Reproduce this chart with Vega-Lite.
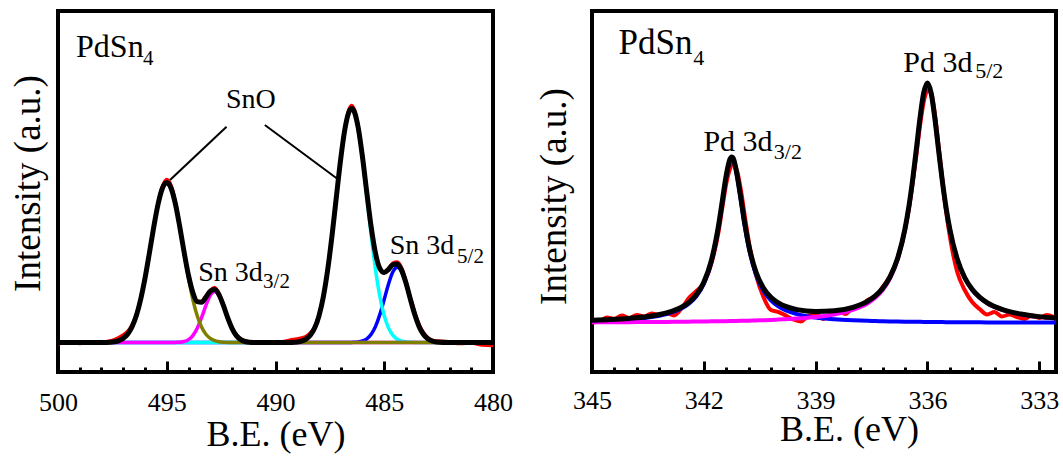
{
  "$schema": "https://vega.github.io/schema/vega-lite/v6.json",
  "background": "white",
  "padding": {"left": 7, "top": 9, "right": 0, "bottom": 0},
  "bounds": "flush",
  "spacing": 99,
  "config": {
    "view": {"stroke": "#000000", "strokeWidth": 4},
    "axis": {"labelFont": "Liberation Serif", "titleFont": "Liberation Serif", "titleFontWeight": "normal", "labelColor": "#000000", "titleColor": "#000000", "grid": false, "domain": false, "tickColor": "#000000"},
    "text": {"font": "Liberation Serif", "color": "#000000"}
  },
  "datasets": {
    "leftFit": [
      {"x": 500, "olive": 0, "magenta": 0, "cyan": 0, "blue": 0, "fit": 0},
      {"x": 499.5, "olive": 0, "magenta": 0, "cyan": 0, "blue": 0, "fit": 0},
      {"x": 499, "olive": 0, "magenta": 0, "cyan": 0, "blue": 0, "fit": 0},
      {"x": 498.5, "olive": 0, "magenta": 0, "cyan": 0, "blue": 0, "fit": 0},
      {"x": 498, "olive": 0, "magenta": 0, "cyan": 0, "blue": 0, "fit": 0},
      {"x": 497.6, "olive": 0.3, "magenta": 0, "cyan": 0, "blue": 0, "fit": 0.3},
      {"x": 497.4, "olive": 0.8, "magenta": 0, "cyan": 0, "blue": 0, "fit": 0.8},
      {"x": 497.2, "olive": 1.9, "magenta": 0, "cyan": 0, "blue": 0, "fit": 1.9},
      {"x": 497.0, "olive": 4.2, "magenta": 0, "cyan": 0, "blue": 0, "fit": 4.2},
      {"x": 496.8, "olive": 8.3, "magenta": 0, "cyan": 0, "blue": 0, "fit": 8.3},
      {"x": 496.6, "olive": 15.5, "magenta": 0, "cyan": 0, "blue": 0, "fit": 15.5},
      {"x": 496.4, "olive": 26.7, "magenta": 0, "cyan": 0, "blue": 0, "fit": 26.7},
      {"x": 496.2, "olive": 43.0, "magenta": 0, "cyan": 0, "blue": 0, "fit": 43.0},
      {"x": 496.0, "olive": 64.2, "magenta": 0, "cyan": 0, "blue": 0, "fit": 64.2},
      {"x": 495.8, "olive": 89.2, "magenta": 0, "cyan": 0, "blue": 0, "fit": 89.2},
      {"x": 495.6, "olive": 115.2, "magenta": 0, "cyan": 0, "blue": 0, "fit": 115.2},
      {"x": 495.4, "olive": 138.3, "magenta": 0, "cyan": 0, "blue": 0, "fit": 138.3},
      {"x": 495.2, "olive": 154.3, "magenta": 0, "cyan": 0, "blue": 0, "fit": 154.3},
      {"x": 495.0, "olive": 160, "magenta": 0, "cyan": 0, "blue": 0, "fit": 160},
      {"x": 494.8, "olive": 154.3, "magenta": 0, "cyan": 0, "blue": 0, "fit": 154.3},
      {"x": 494.6, "olive": 138.3, "magenta": 0.1, "cyan": 0, "blue": 0, "fit": 138.4},
      {"x": 494.4, "olive": 115.2, "magenta": 0.3, "cyan": 0, "blue": 0, "fit": 115.5},
      {"x": 494.2, "olive": 89.2, "magenta": 1.0, "cyan": 0, "blue": 0, "fit": 90.2},
      {"x": 494.0, "olive": 64.2, "magenta": 2.9, "cyan": 0, "blue": 0, "fit": 67.1},
      {"x": 493.8, "olive": 43.0, "magenta": 6.9, "cyan": 0, "blue": 0, "fit": 49.9},
      {"x": 493.6, "olive": 26.7, "magenta": 14.2, "cyan": 0, "blue": 0, "fit": 40.9},
      {"x": 493.4, "olive": 15.5, "magenta": 24.8, "cyan": 0, "blue": 0, "fit": 40.3},
      {"x": 493.2, "olive": 8.3, "magenta": 37.0, "cyan": 0, "blue": 0, "fit": 45.3},
      {"x": 493.0, "olive": 4.2, "magenta": 47.1, "cyan": 0, "blue": 0, "fit": 51.3},
      {"x": 492.8, "olive": 1.9, "magenta": 51, "cyan": 0, "blue": 0, "fit": 52.9},
      {"x": 492.6, "olive": 0.8, "magenta": 47.1, "cyan": 0, "blue": 0, "fit": 47.9},
      {"x": 492.4, "olive": 0.3, "magenta": 37.0, "cyan": 0, "blue": 0, "fit": 37.3},
      {"x": 492.2, "olive": 0.1, "magenta": 24.8, "cyan": 0, "blue": 0, "fit": 24.9},
      {"x": 492.0, "olive": 0, "magenta": 14.2, "cyan": 0, "blue": 0, "fit": 14.2},
      {"x": 491.8, "olive": 0, "magenta": 6.9, "cyan": 0, "blue": 0, "fit": 6.9},
      {"x": 491.6, "olive": 0, "magenta": 2.9, "cyan": 0, "blue": 0, "fit": 2.9},
      {"x": 491.4, "olive": 0, "magenta": 1.0, "cyan": 0, "blue": 0, "fit": 1.0},
      {"x": 491.2, "olive": 0, "magenta": 0.3, "cyan": 0, "blue": 0, "fit": 0.3},
      {"x": 491.0, "olive": 0, "magenta": 0.1, "cyan": 0, "blue": 0, "fit": 0.1},
      {"x": 490.5, "olive": 0, "magenta": 0, "cyan": 0, "blue": 0, "fit": 0},
      {"x": 490.0, "olive": 0, "magenta": 0, "cyan": 0, "blue": 0, "fit": 0},
      {"x": 489.5, "olive": 0, "magenta": 0, "cyan": 0, "blue": 0, "fit": 0},
      {"x": 489.0, "olive": 0, "magenta": 0, "cyan": 0.6, "blue": 0, "fit": 0.6},
      {"x": 488.8, "olive": 0, "magenta": 0, "cyan": 1.4, "blue": 0, "fit": 1.4},
      {"x": 488.6, "olive": 0, "magenta": 0, "cyan": 3.3, "blue": 0, "fit": 3.3},
      {"x": 488.4, "olive": 0, "magenta": 0, "cyan": 7.2, "blue": 0, "fit": 7.2},
      {"x": 488.2, "olive": 0, "magenta": 0, "cyan": 14.4, "blue": 0, "fit": 14.4},
      {"x": 488.0, "olive": 0, "magenta": 0, "cyan": 26.7, "blue": 0, "fit": 26.7},
      {"x": 487.8, "olive": 0, "magenta": 0, "cyan": 45.8, "blue": 0, "fit": 45.8},
      {"x": 487.6, "olive": 0, "magenta": 0, "cyan": 72.8, "blue": 0, "fit": 72.8},
      {"x": 487.4, "olive": 0, "magenta": 0, "cyan": 107.1, "blue": 0, "fit": 107.1},
      {"x": 487.2, "olive": 0, "magenta": 0, "cyan": 145.9, "blue": 0, "fit": 145.9},
      {"x": 487.0, "olive": 0, "magenta": 0, "cyan": 183.9, "blue": 0, "fit": 183.9},
      {"x": 486.8, "olive": 0, "magenta": 0, "cyan": 214.6, "blue": 0, "fit": 214.6},
      {"x": 486.6, "olive": 0, "magenta": 0, "cyan": 231.8, "blue": 0.1, "fit": 231.9},
      {"x": 486.5, "olive": 0, "magenta": 0, "cyan": 234, "blue": 0.1, "fit": 234.1},
      {"x": 486.4, "olive": 0, "magenta": 0, "cyan": 231.8, "blue": 0.2, "fit": 232.0},
      {"x": 486.2, "olive": 0, "magenta": 0, "cyan": 214.6, "blue": 0.5, "fit": 215.1},
      {"x": 486.0, "olive": 0, "magenta": 0, "cyan": 183.9, "blue": 1.5, "fit": 185.4},
      {"x": 485.8, "olive": 0, "magenta": 0, "cyan": 145.9, "blue": 3.7, "fit": 149.6},
      {"x": 485.6, "olive": 0, "magenta": 0, "cyan": 107.1, "blue": 8.2, "fit": 115.3},
      {"x": 485.4, "olive": 0, "magenta": 0, "cyan": 72.8, "blue": 16.1, "fit": 88.9},
      {"x": 485.2, "olive": 0, "magenta": 0, "cyan": 45.8, "blue": 28.1, "fit": 73.9},
      {"x": 485.0, "olive": 0, "magenta": 0, "cyan": 26.7, "blue": 43.2, "fit": 69.9},
      {"x": 484.8, "olive": 0, "magenta": 0, "cyan": 14.4, "blue": 58.8, "fit": 73.2},
      {"x": 484.6, "olive": 0, "magenta": 0, "cyan": 7.2, "blue": 70.7, "fit": 77.9},
      {"x": 484.4, "olive": 0, "magenta": 0, "cyan": 3.3, "blue": 75.2, "fit": 78.5},
      {"x": 484.2, "olive": 0, "magenta": 0, "cyan": 1.4, "blue": 70.7, "fit": 72.1},
      {"x": 484.0, "olive": 0, "magenta": 0, "cyan": 0.6, "blue": 58.8, "fit": 59.4},
      {"x": 483.8, "olive": 0, "magenta": 0, "cyan": 0.2, "blue": 43.2, "fit": 43.4},
      {"x": 483.6, "olive": 0, "magenta": 0, "cyan": 0.1, "blue": 28.1, "fit": 28.2},
      {"x": 483.4, "olive": 0, "magenta": 0, "cyan": 0, "blue": 16.1, "fit": 16.1},
      {"x": 483.2, "olive": 0, "magenta": 0, "cyan": 0, "blue": 8.2, "fit": 8.2},
      {"x": 483.0, "olive": 0, "magenta": 0, "cyan": 0, "blue": 3.7, "fit": 3.7},
      {"x": 482.8, "olive": 0, "magenta": 0, "cyan": 0, "blue": 1.5, "fit": 1.5},
      {"x": 482.6, "olive": 0, "magenta": 0, "cyan": 0, "blue": 0.5, "fit": 0.5},
      {"x": 482.0, "olive": 0, "magenta": 0, "cyan": 0, "blue": 0, "fit": 0},
      {"x": 481.5, "olive": 0, "magenta": 0, "cyan": 0, "blue": 0, "fit": 0},
      {"x": 481.0, "olive": 0, "magenta": 0, "cyan": 0, "blue": 0, "fit": 0},
      {"x": 480.5, "olive": 0, "magenta": 0, "cyan": 0, "blue": 0, "fit": 0},
      {"x": 480.0, "olive": 0, "magenta": 0, "cyan": 0, "blue": 0, "fit": 0}
    ],
    "leftData": [
      {"x": 500, "counts": -1.5}, {"x": 499.5, "counts": 0.5}, {"x": 499, "counts": -1.0}, {"x": 498.5, "counts": 0.5},
      {"x": 498, "counts": 0}, {"x": 497.6, "counts": 1.5}, {"x": 497.4, "counts": 3.0}, {"x": 497.2, "counts": 5.0},
      {"x": 497.0, "counts": 7.5}, {"x": 496.8, "counts": 11.0}, {"x": 496.6, "counts": 17.5}, {"x": 496.4, "counts": 27.5},
      {"x": 496.2, "counts": 44}, {"x": 496.0, "counts": 65}, {"x": 495.8, "counts": 90}, {"x": 495.6, "counts": 116},
      {"x": 495.4, "counts": 139.5}, {"x": 495.2, "counts": 156}, {"x": 495.0, "counts": 163}, {"x": 494.8, "counts": 157},
      {"x": 494.6, "counts": 140}, {"x": 494.4, "counts": 116}, {"x": 494.2, "counts": 90}, {"x": 494.0, "counts": 67},
      {"x": 493.8, "counts": 50}, {"x": 493.6, "counts": 41}, {"x": 493.4, "counts": 41}, {"x": 493.2, "counts": 46.5},
      {"x": 493.0, "counts": 52}, {"x": 492.8, "counts": 55}, {"x": 492.6, "counts": 49}, {"x": 492.4, "counts": 38},
      {"x": 492.2, "counts": 25}, {"x": 492.0, "counts": 14.5}, {"x": 491.8, "counts": 7.5}, {"x": 491.6, "counts": 3.5},
      {"x": 491.4, "counts": 1.0}, {"x": 491.2, "counts": 0.5}, {"x": 491.0, "counts": -0.5}, {"x": 490.5, "counts": 0.5},
      {"x": 490.0, "counts": -0.5}, {"x": 489.5, "counts": 1.5}, {"x": 489.2, "counts": 3.0}, {"x": 489.0, "counts": 3.5},
      {"x": 488.8, "counts": 4.5}, {"x": 488.6, "counts": 6.0}, {"x": 488.4, "counts": 9.5}, {"x": 488.2, "counts": 15.5},
      {"x": 488.0, "counts": 27.5}, {"x": 487.8, "counts": 46}, {"x": 487.6, "counts": 73}, {"x": 487.4, "counts": 107},
      {"x": 487.2, "counts": 146}, {"x": 487.0, "counts": 184}, {"x": 486.8, "counts": 215}, {"x": 486.6, "counts": 234},
      {"x": 486.5, "counts": 237}, {"x": 486.4, "counts": 234}, {"x": 486.2, "counts": 216}, {"x": 486.0, "counts": 186},
      {"x": 485.8, "counts": 150}, {"x": 485.6, "counts": 115}, {"x": 485.4, "counts": 89}, {"x": 485.2, "counts": 74},
      {"x": 485.0, "counts": 70.5}, {"x": 484.8, "counts": 74}, {"x": 484.6, "counts": 79.5}, {"x": 484.4, "counts": 80.5},
      {"x": 484.2, "counts": 74.5}, {"x": 484.0, "counts": 61}, {"x": 483.8, "counts": 45}, {"x": 483.6, "counts": 30},
      {"x": 483.4, "counts": 18}, {"x": 483.2, "counts": 10}, {"x": 483.0, "counts": 5}, {"x": 482.8, "counts": 2.5},
      {"x": 482.6, "counts": 1.5}, {"x": 482.0, "counts": 0.5}, {"x": 481.5, "counts": -1}, {"x": 481.0, "counts": -0.5},
      {"x": 480.5, "counts": -2.5}, {"x": 480.0, "counts": -3}
    ],
    "leftLabels": [
      {"x": 492.28, "y": 234.2, "label": "SnO"},
      {"x": 493.55, "y": 61.8, "label": "Sn 3d"},
      {"x": 484.75, "y": 88.5, "label": "Sn 3d"}
    ],
    "leftTitle": [{"x": 499.17, "y": 285.5, "label": "PdSn"}],
    "leftSub": [
      {"x": 496.09, "y": 277.5, "label": "4"},
      {"x": 490.57, "y": 54.5, "label": "3/2"},
      {"x": 481.65, "y": 79.8, "label": "5/2"}
    ],
    "leftLeaders": [
      {"x": 492.25, "y": 215.8, "x2": 494.85, "y2": 162.5},
      {"x": 490.49, "y": 217.5, "x2": 487.19, "y2": 164.2}
    ],
    "rightFit": [
      {"x": 345.0, "blue": 3.03, "magenta": 1.68, "fit": 3.71},
      {"x": 344.5, "blue": 3.69, "magenta": 1.76, "fit": 4.45},
      {"x": 344.0, "blue": 4.74, "magenta": 1.86, "fit": 5.60},
      {"x": 343.5, "blue": 6.52, "magenta": 1.98, "fit": 7.50},
      {"x": 343.0, "blue": 9.93, "magenta": 2.12, "fit": 11.05},
      {"x": 342.6, "blue": 15.47, "magenta": 2.26, "fit": 16.73},
      {"x": 342.4, "blue": 20.30, "magenta": 2.34, "fit": 21.64},
      {"x": 342.2, "blue": 27.81, "magenta": 2.42, "fit": 29.23},
      {"x": 342.0, "blue": 40.15, "magenta": 2.52, "fit": 41.67},
      {"x": 341.8, "blue": 61.41, "magenta": 2.63, "fit": 63.04},
      {"x": 341.6, "blue": 97.79, "magenta": 2.74, "fit": 99.53},
      {"x": 341.5, "blue": 122.10, "magenta": 2.81, "fit": 123.91},
      {"x": 341.4, "blue": 146.44, "magenta": 2.87, "fit": 148.31},
      {"x": 341.3, "blue": 162.71, "magenta": 2.94, "fit": 164.65},
      {"x": 341.25, "blue": 165.0, "magenta": 2.98, "fit": 166.98},
      {"x": 341.2, "blue": 162.71, "magenta": 3.02, "fit": 164.73},
      {"x": 341.1, "blue": 146.44, "magenta": 3.10, "fit": 147.54},
      {"x": 341.0, "blue": 122.10, "magenta": 3.18, "fit": 124.28},
      {"x": 340.9, "blue": 97.79, "magenta": 3.27, "fit": 100.06},
      {"x": 340.8, "blue": 77.35, "magenta": 3.37, "fit": 79.72},
      {"x": 340.6, "blue": 49.30, "magenta": 3.57, "fit": 51.87},
      {"x": 340.4, "blue": 33.18, "magenta": 3.81, "fit": 35.99},
      {"x": 340.2, "blue": 23.62, "magenta": 4.08, "fit": 26.70},
      {"x": 340.0, "blue": 17.64, "magenta": 4.39, "fit": 21.03},
      {"x": 339.5, "blue": 9.93, "magenta": 5.41, "fit": 14.34},
      {"x": 339.0, "blue": 6.52, "magenta": 6.97, "fit": 12.49},
      {"x": 338.5, "blue": 4.74, "magenta": 9.50, "fit": 13.24},
      {"x": 338.0, "blue": 3.69, "magenta": 14.02, "fit": 16.71},
      {"x": 337.6, "blue": 3.14, "magenta": 20.73, "fit": 22.87},
      {"x": 337.4, "blue": 2.93, "magenta": 26.14, "fit": 28.07},
      {"x": 337.2, "blue": 2.75, "magenta": 33.97, "fit": 35.72},
      {"x": 337.0, "blue": 2.59, "magenta": 45.76, "fit": 47.35},
      {"x": 336.8, "blue": 2.45, "magenta": 64.26, "fit": 65.71},
      {"x": 336.6, "blue": 2.33, "magenta": 94.27, "fit": 95.60},
      {"x": 336.5, "blue": 2.27, "magenta": 115.62, "fit": 116.89},
      {"x": 336.4, "blue": 2.22, "magenta": 142.05, "fit": 143.27},
      {"x": 336.3, "blue": 2.17, "magenta": 172.8, "fit": 173.97},
      {"x": 336.2, "blue": 2.13, "magenta": 204.6, "fit": 205.73},
      {"x": 336.1, "blue": 2.08, "magenta": 230.1, "fit": 231.18},
      {"x": 336.0, "blue": 2.04, "magenta": 240.0, "fit": 241.04},
      {"x": 335.9, "blue": 2.00, "magenta": 230.1, "fit": 231.10},
      {"x": 335.8, "blue": 1.97, "magenta": 204.6, "fit": 205.57},
      {"x": 335.7, "blue": 1.93, "magenta": 172.8, "fit": 173.73},
      {"x": 335.6, "blue": 1.90, "magenta": 142.05, "fit": 142.95},
      {"x": 335.5, "blue": 1.87, "magenta": 115.62, "fit": 116.49},
      {"x": 335.4, "blue": 1.84, "magenta": 94.27, "fit": 95.11},
      {"x": 335.2, "blue": 1.79, "magenta": 64.26, "fit": 65.05},
      {"x": 335.0, "blue": 1.74, "magenta": 45.76, "fit": 46.50},
      {"x": 334.8, "blue": 1.69, "magenta": 33.97, "fit": 34.66},
      {"x": 334.6, "blue": 1.65, "magenta": 26.14, "fit": 26.79},
      {"x": 334.4, "blue": 1.61, "magenta": 20.73, "fit": 21.34},
      {"x": 334.0, "blue": 1.55, "magenta": 14.02, "fit": 14.57},
      {"x": 333.5, "blue": 1.48, "magenta": 9.50, "fit": 9.98},
      {"x": 333.0, "blue": 1.42, "magenta": 6.97, "fit": 7.39},
      {"x": 332.55, "blue": 1.38, "magenta": 5.54, "fit": 5.92}
    ],
    "rightData": [
      {"x": 345.0, "counts": 1.5}, {"x": 344.8, "counts": 2.5}, {"x": 344.6, "counts": 6.5}, {"x": 344.4, "counts": 5.0},
      {"x": 344.2, "counts": 8.5}, {"x": 344.0, "counts": 6.0}, {"x": 343.8, "counts": 9.0}, {"x": 343.6, "counts": 7.5},
      {"x": 343.4, "counts": 10.5}, {"x": 343.2, "counts": 9.0}, {"x": 343.0, "counts": 11.0}, {"x": 342.8, "counts": 8.5},
      {"x": 342.6, "counts": 15.5}, {"x": 342.4, "counts": 26}, {"x": 342.2, "counts": 33}, {"x": 342.0, "counts": 41},
      {"x": 341.8, "counts": 60}, {"x": 341.6, "counts": 93}, {"x": 341.5, "counts": 117}, {"x": 341.4, "counts": 140},
      {"x": 341.3, "counts": 155}, {"x": 341.25, "counts": 159}, {"x": 341.2, "counts": 160}, {"x": 341.1, "counts": 152},
      {"x": 341.0, "counts": 133}, {"x": 340.9, "counts": 108}, {"x": 340.8, "counts": 84}, {"x": 340.6, "counts": 49},
      {"x": 340.4, "counts": 27}, {"x": 340.2, "counts": 14}, {"x": 340.0, "counts": 12}, {"x": 339.8, "counts": 8.5},
      {"x": 339.6, "counts": 4.5}, {"x": 339.4, "counts": 2.5}, {"x": 339.2, "counts": 8.0}, {"x": 339.0, "counts": 10.5},
      {"x": 338.8, "counts": 5.0}, {"x": 338.6, "counts": 10.0}, {"x": 338.4, "counts": 12.5}, {"x": 338.2, "counts": 10.0},
      {"x": 338.0, "counts": 16.5}, {"x": 337.8, "counts": 18.0}, {"x": 337.6, "counts": 24.0}, {"x": 337.4, "counts": 27.5},
      {"x": 337.2, "counts": 37}, {"x": 337.0, "counts": 48}, {"x": 336.8, "counts": 66}, {"x": 336.6, "counts": 95},
      {"x": 336.5, "counts": 115}, {"x": 336.4, "counts": 140}, {"x": 336.3, "counts": 168}, {"x": 336.2, "counts": 198},
      {"x": 336.1, "counts": 222}, {"x": 336.0, "counts": 233}, {"x": 335.9, "counts": 231}, {"x": 335.8, "counts": 210},
      {"x": 335.7, "counts": 178}, {"x": 335.6, "counts": 145}, {"x": 335.5, "counts": 113}, {"x": 335.4, "counts": 88},
      {"x": 335.2, "counts": 52}, {"x": 335.0, "counts": 34}, {"x": 334.8, "counts": 22}, {"x": 334.6, "counts": 15},
      {"x": 334.4, "counts": 9.5}, {"x": 334.2, "counts": 12.0}, {"x": 334.0, "counts": 7.5}, {"x": 333.8, "counts": 9.5},
      {"x": 333.6, "counts": 7.0}, {"x": 333.4, "counts": 5.0}, {"x": 333.2, "counts": 8.5}, {"x": 333.0, "counts": 6.0},
      {"x": 332.8, "counts": 9.0}, {"x": 332.6, "counts": 7.0}
    ],
    "rightLabels": [
      {"x": 342.01, "y": 173.3, "label": "Pd 3d"},
      {"x": 336.65, "y": 252.3, "label": "Pd 3d"}
    ],
    "rightTitle": [{"x": 344.29, "y": 270, "label": "PdSn"}],
    "rightSub": [
      {"x": 342.28, "y": 259, "label": "4"},
      {"x": 340.12, "y": 164.7, "label": "3/2"},
      {"x": 334.72, "y": 245.7, "label": "5/2"}
    ]
  },
  "hconcat": [
    {
      "width": 435,
      "height": 361,
      "resolve": {"axis": {"x": "independent", "y": "independent"}},
      "layer": [
        {
          "data": {"name": "leftData"},
          "mark": {"type": "line", "color": "#ff0000", "strokeWidth": 3.5, "interpolate": "monotone", "clip": true},
          "encoding": {
            "x": {"field": "x", "type": "quantitative", "scale": {"domain": [480, 500], "reverse": true, "nice": false, "zero": false},
                  "axis": {"orient": "bottom", "values": [499, 498, 497, 496, 494, 493, 492, 491, 489, 488, 487, 486, 484, 483, 482, 481], "tickSize": -5, "tickWidth": 3, "labels": false, "domain": false, "grid": false, "title": null}},
            "y": {"field": "counts", "type": "quantitative", "scale": {"domain": [-29.5, 331.5], "nice": false, "zero": false},
                  "axis": {"orient": "left", "title": "Intensity (a.u.)", "ticks": false, "labels": false, "domain": false, "grid": false, "titleFontSize": 37, "titleX": -19, "titleY": 172, "titleBaseline": "alphabetic", "titleAlign": "center", "titleAngle": -90}}
          }
        },
        {
          "data": {"name": "leftFit"},
          "mark": {"type": "line", "color": "#0000ff", "strokeWidth": 3.5, "interpolate": "monotone", "clip": true},
          "encoding": {
            "x": {"field": "x", "type": "quantitative", "scale": {"domain": [480, 500], "reverse": true, "nice": false, "zero": false},
                  "axis": {"orient": "bottom", "values": [500, 495, 490, 485, 480], "format": "d", "tickSize": -11, "tickWidth": 3, "labelFontSize": 26, "labelPadding": 49, "labelBaseline": "alphabetic", "labelFlush": false, "labelOverlap": false, "domain": false, "grid": false, "title": "B.E. (eV)", "titleFontSize": 36, "titleX": 217.5, "titleY": 73, "titleBaseline": "alphabetic", "titleAlign": "center"}},
            "y": {"field": "blue", "type": "quantitative", "scale": {"domain": [-29.5, 331.5], "nice": false, "zero": false}, "axis": null}
          }
        },
        {
          "data": {"name": "leftFit"},
          "mark": {"type": "line", "color": "#00ffff", "strokeWidth": 3.5, "interpolate": "monotone", "clip": true},
          "encoding": {
            "x": {"field": "x", "type": "quantitative", "scale": {"domain": [480, 500], "reverse": true, "nice": false, "zero": false}, "axis": null},
            "y": {"field": "cyan", "type": "quantitative", "scale": {"domain": [-29.5, 331.5], "nice": false, "zero": false}, "axis": null}
          }
        },
        {
          "data": {"name": "leftFit"},
          "mark": {"type": "line", "color": "#ff00ff", "strokeWidth": 3.5, "interpolate": "monotone", "clip": true},
          "encoding": {
            "x": {"field": "x", "type": "quantitative", "scale": {"domain": [480, 500], "reverse": true, "nice": false, "zero": false}, "axis": null},
            "y": {"field": "magenta", "type": "quantitative", "scale": {"domain": [-29.5, 331.5], "nice": false, "zero": false}, "axis": null}
          }
        },
        {
          "data": {"name": "leftFit"},
          "mark": {"type": "line", "color": "#808000", "strokeWidth": 3.5, "interpolate": "monotone", "clip": true},
          "encoding": {
            "x": {"field": "x", "type": "quantitative", "scale": {"domain": [480, 500], "reverse": true, "nice": false, "zero": false}, "axis": null},
            "y": {"field": "olive", "type": "quantitative", "scale": {"domain": [-29.5, 331.5], "nice": false, "zero": false}, "axis": null}
          }
        },
        {
          "data": {"name": "leftFit"},
          "mark": {"type": "line", "color": "#000000", "strokeWidth": 5, "interpolate": "monotone", "clip": true},
          "encoding": {
            "x": {"field": "x", "type": "quantitative", "scale": {"domain": [480, 500], "reverse": true, "nice": false, "zero": false}, "axis": null},
            "y": {"field": "fit", "type": "quantitative", "scale": {"domain": [-29.5, 331.5], "nice": false, "zero": false}, "axis": null}
          }
        },
        {
          "data": {"name": "leftLeaders"},
          "mark": {"type": "rule", "color": "#000000", "strokeWidth": 2},
          "encoding": {
            "x": {"field": "x", "type": "quantitative", "scale": {"domain": [480, 500], "reverse": true, "nice": false, "zero": false}, "axis": null},
            "y": {"field": "y", "type": "quantitative", "scale": {"domain": [-29.5, 331.5], "nice": false, "zero": false}, "axis": null},
            "x2": {"field": "x2"},
            "y2": {"field": "y2"}
          }
        },
        {
          "data": {"name": "leftLabels"},
          "mark": {"type": "text", "align": "left", "baseline": "alphabetic", "fontSize": 28, "font": "Liberation Serif", "color": "#000000"},
          "encoding": {
            "x": {"field": "x", "type": "quantitative", "scale": {"domain": [480, 500], "reverse": true, "nice": false, "zero": false}, "axis": null},
            "y": {"field": "y", "type": "quantitative", "scale": {"domain": [-29.5, 331.5], "nice": false, "zero": false}, "axis": null},
            "text": {"field": "label"}
          }
        },
        {
          "data": {"name": "leftTitle"},
          "mark": {"type": "text", "align": "left", "baseline": "alphabetic", "fontSize": 32, "font": "Liberation Serif", "color": "#000000"},
          "encoding": {
            "x": {"field": "x", "type": "quantitative", "scale": {"domain": [480, 500], "reverse": true, "nice": false, "zero": false}, "axis": null},
            "y": {"field": "y", "type": "quantitative", "scale": {"domain": [-29.5, 331.5], "nice": false, "zero": false}, "axis": null},
            "text": {"field": "label"}
          }
        },
        {
          "data": {"name": "leftSub"},
          "mark": {"type": "text", "align": "left", "baseline": "alphabetic", "fontSize": 21, "font": "Liberation Serif", "color": "#000000"},
          "encoding": {
            "x": {"field": "x", "type": "quantitative", "scale": {"domain": [480, 500], "reverse": true, "nice": false, "zero": false}, "axis": null},
            "y": {"field": "y", "type": "quantitative", "scale": {"domain": [-29.5, 331.5], "nice": false, "zero": false}, "axis": null},
            "text": {"field": "label"}
          }
        }
      ]
    },
    {
      "width": 464,
      "height": 361,
      "resolve": {"axis": {"x": "independent", "y": "independent"}},
      "layer": [
        {
          "data": {"name": "rightData"},
          "mark": {"type": "line", "color": "#ff0000", "strokeWidth": 4, "interpolate": "monotone", "clip": true},
          "encoding": {
            "x": {"field": "x", "type": "quantitative", "scale": {"domain": [332.55, 345], "reverse": true, "nice": false, "zero": false},
                  "axis": {"orient": "bottom", "values": [344.4, 343.8, 343.2, 342.6, 341.4, 340.8, 340.2, 339.6, 338.4, 337.8, 337.2, 336.6, 335.4, 334.8, 334.2, 333.6], "tickSize": -5, "tickWidth": 3, "labels": false, "domain": false, "grid": false, "title": null}},
            "y": {"field": "counts", "type": "quantitative", "scale": {"domain": [-48, 313], "nice": false, "zero": false},
                  "axis": {"orient": "left", "title": "Intensity (a.u.)", "ticks": false, "labels": false, "domain": false, "grid": false, "titleFontSize": 37, "titleX": -27, "titleY": 185, "titleBaseline": "alphabetic", "titleAlign": "center", "titleAngle": -90}}
          }
        },
        {
          "data": {"name": "rightFit"},
          "mark": {"type": "line", "color": "#0000ff", "strokeWidth": 4, "interpolate": "monotone", "clip": true},
          "encoding": {
            "x": {"field": "x", "type": "quantitative", "scale": {"domain": [332.55, 345], "reverse": true, "nice": false, "zero": false},
                  "axis": {"orient": "bottom", "values": [345, 342, 339, 336, 333], "format": "d", "tickSize": -11, "tickWidth": 3, "labelFontSize": 26, "labelPadding": 47, "labelBaseline": "alphabetic", "labelFlush": false, "labelOverlap": false, "domain": false, "grid": false, "title": "B.E. (eV)", "titleFontSize": 36, "titleX": 257, "titleY": 68, "titleBaseline": "alphabetic", "titleAlign": "center"}},
            "y": {"field": "blue", "type": "quantitative", "scale": {"domain": [-48, 313], "nice": false, "zero": false}, "axis": null}
          }
        },
        {
          "data": {"name": "rightFit"},
          "mark": {"type": "line", "color": "#ff00ff", "strokeWidth": 4, "interpolate": "monotone", "clip": true},
          "encoding": {
            "x": {"field": "x", "type": "quantitative", "scale": {"domain": [332.55, 345], "reverse": true, "nice": false, "zero": false}, "axis": null},
            "y": {"field": "magenta", "type": "quantitative", "scale": {"domain": [-48, 313], "nice": false, "zero": false}, "axis": null}
          }
        },
        {
          "data": {"name": "rightFit"},
          "mark": {"type": "line", "color": "#000000", "strokeWidth": 5, "interpolate": "monotone", "clip": true},
          "encoding": {
            "x": {"field": "x", "type": "quantitative", "scale": {"domain": [332.55, 345], "reverse": true, "nice": false, "zero": false}, "axis": null},
            "y": {"field": "fit", "type": "quantitative", "scale": {"domain": [-48, 313], "nice": false, "zero": false}, "axis": null}
          }
        },
        {
          "data": {"name": "rightLabels"},
          "mark": {"type": "text", "align": "left", "baseline": "alphabetic", "fontSize": 30, "font": "Liberation Serif", "color": "#000000"},
          "encoding": {
            "x": {"field": "x", "type": "quantitative", "scale": {"domain": [332.55, 345], "reverse": true, "nice": false, "zero": false}, "axis": null},
            "y": {"field": "y", "type": "quantitative", "scale": {"domain": [-48, 313], "nice": false, "zero": false}, "axis": null},
            "text": {"field": "label"}
          }
        },
        {
          "data": {"name": "rightTitle"},
          "mark": {"type": "text", "align": "left", "baseline": "alphabetic", "fontSize": 35, "font": "Liberation Serif", "color": "#000000"},
          "encoding": {
            "x": {"field": "x", "type": "quantitative", "scale": {"domain": [332.55, 345], "reverse": true, "nice": false, "zero": false}, "axis": null},
            "y": {"field": "y", "type": "quantitative", "scale": {"domain": [-48, 313], "nice": false, "zero": false}, "axis": null},
            "text": {"field": "label"}
          }
        },
        {
          "data": {"name": "rightSub"},
          "mark": {"type": "text", "align": "left", "baseline": "alphabetic", "fontSize": 22, "font": "Liberation Serif", "color": "#000000"},
          "encoding": {
            "x": {"field": "x", "type": "quantitative", "scale": {"domain": [332.55, 345], "reverse": true, "nice": false, "zero": false}, "axis": null},
            "y": {"field": "y", "type": "quantitative", "scale": {"domain": [-48, 313], "nice": false, "zero": false}, "axis": null},
            "text": {"field": "label"}
          }
        }
      ]
    }
  ]
}
